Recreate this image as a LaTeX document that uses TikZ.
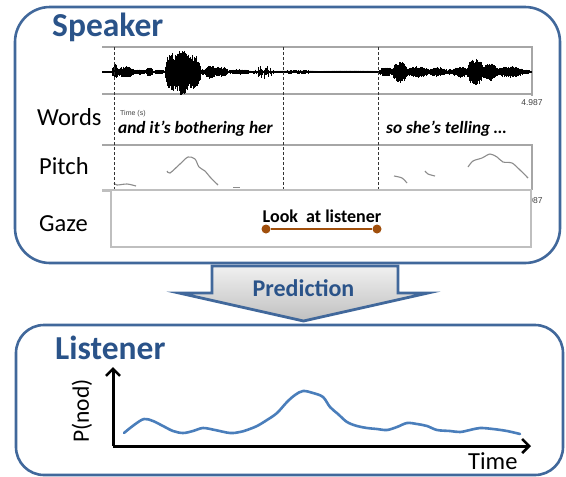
\documentclass[tikz,border=0pt]{standalone}
\usepackage{fontspec}
\setmainfont{Carlito}
\newfontfamily\arialf{Liberation Sans}
\usetikzlibrary{arrows.meta}
\definecolor{boxblue}{HTML}{41689B}
\definecolor{titleblue}{HTML}{2A5389}
\definecolor{curveblue}{HTML}{4A7EBB}
\definecolor{gazebrown}{HTML}{A04F0C}
\definecolor{panelgrey}{HTML}{A6A6A6}
\definecolor{gazegrey}{HTML}{BFBFBF}
\definecolor{pitchgrey}{HTML}{8C8C8C}
\newcommand\wburst[3]{%
  \pgfmathsetmacro\wstep{#1+0.4}%
  \foreach \x in {#1,\wstep,...,#2}{%
    \pgfmathsetmacro\env{#3*sqrt(max(0,sin(180*(\x-#1)/(#2-#1))))}%
    \pgfmathsetmacro\hu{\env*(0.5+0.5*rnd)+0.7}%
    \pgfmathsetmacro\hd{\env*(0.5+0.5*rnd)+0.7}%
    \draw[wave] (\x,72-\hu) -- (\x,72+\hd);
  }}
\newcommand\wspike[3]{%
  \pgfmathsetmacro\wstep{#1+1.2}%
  \foreach \x in {#1,\wstep,...,#2}{%
    \pgfmathsetmacro\env{#3*sqrt(max(0,sin(180*(\x-#1)/(#2-#1))))}%
    \pgfmathsetmacro\hu{\env*(0.1+0.9*rnd*rnd)+0.6}%
    \pgfmathsetmacro\hd{\env*(0.1+0.9*rnd*rnd)+0.6}%
    \draw[wave] (\x,72-\hu) -- (\x,72+\hd);
  }}
\begin{document}
\begin{tikzpicture}[x=1pt,y=-1pt,
  title/.style={font=\fontsize{33.5}{36}\selectfont\bfseries, text=titleblue, inner sep=0pt, anchor=base west},
  rowlabel/.style={font=\fontsize{24.5}{28}\selectfont, inner sep=0pt, anchor=base west},
  words/.style={font=\fontsize{17.3}{20}\selectfont\bfseries\itshape, inner sep=0pt, anchor=base west},
  tiny/.style={font=\arialf\fontsize{8.5}{9}\selectfont, text=black!75, inner sep=0pt},
  bigbox/.style={draw=boxblue, line width=2.6pt, fill=white, inner sep=0pt},
  panel/.style={draw=panelgrey, line width=1.4pt},
  dashline/.style={black!80, line width=0.8pt, dash pattern=on 3pt off 2pt},
  wave/.style={black, line width=0.9pt},
  pitch/.style={pitchgrey, line width=1.1pt},
  curve/.style={curveblue, line width=2.6pt, line cap=round, line join=round},
  axis/.style={black, line width=3pt, -{Straight Barb[length=7pt,width=14pt,line width=2.6pt]}},
  gazedot/.style={circle, fill=gazebrown, inner sep=0pt, minimum size=9pt}]
\useasboundingbox (0,0) rectangle (566,477);

% Speaker box
\node[bigbox, rounded corners=35pt, minimum width=545pt, minimum height=256pt] (spkbox) at (287.5,135) {};
\node[title] (spktitle) at (52,36) {Speaker};

% Waveform panel
\draw[panel] (102,47) -- (532,47) -- (532,96);
\draw[panel] (102,94) -- (532,94);
\draw[wave, line width=1.1pt] (102,72) -- (532,72);
\pgfmathsetseed{17}
\wburst{112.5}{118}{8}
\wburst{117}{134}{5}
\wburst{133}{146}{2}
\wburst{146}{153}{4}
\wburst{153}{165}{1.5}
\wburst{165}{180}{19}
\wburst{172}{192}{23}
\wburst{186}{201}{17}
\wburst{200}{206}{2}
\wburst{205}{216}{6}
\wburst{213}{228}{5}
\wburst{228}{251}{2}
\wspike{252}{274}{8}
\wburst{274}{320}{1}
\wburst{320}{378}{0.8}
\wburst{379}{394}{4}
\wburst{392}{408}{10}
\wburst{406}{430}{5}
\wburst{428}{448}{4}
\wburst{447}{453}{2}
\wburst{452}{469}{5}
\wburst{467}{484}{13}
\wburst{482}{498}{8}
\wburst{496}{524}{5}
\wburst{522}{531}{1.5}
\node[tiny, anchor=base] (t1) at (532,105) {4.987};

% Words row
\node[rowlabel] (wordslbl) at (37,125) {Words};
\node[tiny, anchor=base west, font=\arialf\fontsize{7}{8}\selectfont] (timesl) at (120,115) {Time (s)};
\node[words] (w1) at (118,133) {and it’s bothering her};
\node[words] (w2) at (386,133) {so she’s telling …};

% Pitch panel
\node[rowlabel] (pitchlbl) at (39,174) {Pitch};
\draw[panel] (102,145) -- (532,145) -- (532,190);
\draw[pitch] plot[smooth] coordinates {(114,183) (117,185) (127,184) (136,186)};
\draw[pitch] plot[smooth] coordinates {(167,171) (170,173) (180,164) (188,157) (195,159) (199,167) (205,171) (210,177) (218,185)};
\draw[pitch] (233,187.5) -- (240,187.5);
\draw[pitch] plot[smooth] coordinates {(394,176) (402,178) (407,183)};
\draw[pitch] plot[smooth] coordinates {(425,171) (428,174) (435,176)};
\draw[pitch] plot[smooth] coordinates {(468,167) (473,161) (482,158) (490,154) (497,157) (503,162) (512,163) (520,170) (528,178)};

% Dashed time markers
\coordinate (d1t) at (114,47); \coordinate (d1b) at (114,190);
\coordinate (d2t) at (283,47); \coordinate (d2b) at (283,190);
\coordinate (d3t) at (378,47); \coordinate (d3b) at (378,190);
\draw[dashline] (d1t) -- (d1b);
\draw[dashline] (d2t) -- (d2b);
\draw[dashline] (d3t) -- (d3b);

% Gaze row
\node[tiny, anchor=base] (t2) at (532,203) {4.987};
\draw[gazegrey, line width=3pt] (102,190) -- (532,190);
\node[draw=gazegrey, line width=2pt, fill=white, minimum width=420pt, minimum height=57pt, inner sep=0pt] (gazebox) at (321,218.5) {};
\node[rowlabel] (gazelbl) at (39,231) {Gaze};
\node[font=\fontsize{18}{20}\selectfont\bfseries, inner sep=0pt, anchor=base] (look) at (322,222) {Look\ \ at listener};
\node[gazedot] (g1) at (266,229) {};
\node[gazedot] (g2) at (377,229) {};
\draw[gazebrown, line width=2.6pt] (g1) -- (g2);

% Prediction arrow
\draw[boxblue, line width=2.8pt, line join=miter, top color={rgb,255:red,240;green,240;blue,240}, bottom color={rgb,255:red,192;green,192;blue,192}]
  (212,266) -- (398,266) -- (398,293) -- (428,293) -- (303.5,321) -- (179,293) -- (212,293) -- cycle;
\node[font=\fontsize{24}{26}\selectfont\bfseries, text=titleblue, inner sep=0pt, anchor=base] (pred) at (303.5,296) {Prediction};

% Listener box
\node[bigbox, rounded corners=28pt, minimum width=547pt, minimum height=150pt] (lisbox) at (289.5,400) {};
\node[title] (listitle) at (55,359) {Listener};

% Axes
\coordinate (orig) at (113,446);
\coordinate (ytip) at (113,367);
\coordinate (xtip) at (531,446);
\draw[axis] (orig) -- (ytip);
\draw[axis] (orig) -- (xtip);
\node[font=\fontsize{23.5}{26}\selectfont, inner sep=0pt, rotate=90] (pnod) at (82,411) {P(nod)};
\node[rowlabel] (timelbl) at (468,469) {Time};

% Curve
\draw[curve] plot[smooth, tension=0.55] coordinates {(124,433) (134,425) (144,419) (153,421) (163,426) (173,431) (183,433) (193,431) (203,428) (215,430) (230,433) (240,432) (247,430) (257,426) (267,420) (277,413) (287,402) (295,395) (303,391) (313,393) (323,397) (330,407) (338,414) (347,422) (357,426) (367,428) (377,429) (387,430) (397,427) (407,423) (417,424) (427,426) (437,430) (450,431) (460,432) (470,430) (480,428) (493,429) (507,431) (520,434)};
\end{tikzpicture}
\end{document}
